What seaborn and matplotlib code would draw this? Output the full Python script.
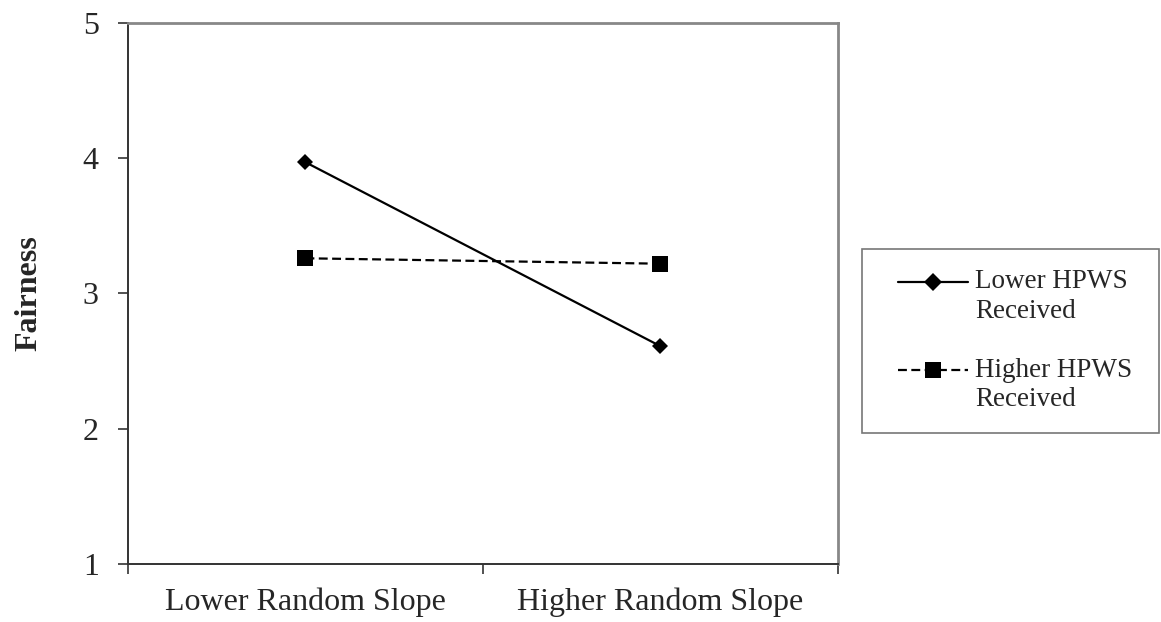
import pandas as pd
import matplotlib
matplotlib.use("Agg")
import matplotlib.pyplot as plt
import seaborn as sns

# ── Data ─────────────────────────────────────────────────────────────────────
slope_levels = ["Lower Random Slope", "Higher Random Slope"]
groups = ["Lower HPWS\nReceived", "Higher HPWS\nReceived"]
lower_hpws = [3.97, 2.61]
higher_hpws = [3.26, 3.22]
y_ticks = [1, 2, 3, 4, 5]

df = pd.DataFrame({
    "slope": slope_levels * 2,
    "group": [groups[0]] * 2 + [groups[1]] * 2,
    "fairness": lower_hpws + higher_hpws,
})

# ── Style ────────────────────────────────────────────────────────────────────
sns.set_style("white")
plt.rcParams["font.family"] = ["Liberation Serif", "DejaVu Serif"]

fig = plt.figure(figsize=(11.61, 6.22), dpi=100)
ax = fig.add_axes([0.1102, 0.0932, 0.6116, 0.870])

sns.lineplot(
    data=df, x="slope", y="fairness", hue="group", style="group",
    palette={groups[0]: "black", groups[1]: "black"},
    markers={groups[0]: "D", groups[1]: "s"},
    dashes={groups[0]: "", groups[1]: (4, 2)},
    markersize=8.5, linewidth=1.6, markeredgewidth=0, ax=ax, sort=False,
)
# square markers a bit larger than the diamonds
ax.lines[1].set_markersize(11)

ax.set_xlim(-0.5, 1.5)
ax.set_ylim(1, 5)
ax.set_yticks(y_ticks)
ax.set_xticks([-0.5, 0.5, 1.5])
ax.set_xticklabels([])
ax.set_xticks([0, 1], minor=True)
ax.set_xticklabels(slope_levels, minor=True, fontsize=23)
ax.tick_params(axis="x", which="minor", length=0, pad=17)
ax.tick_params(axis="x", which="major", direction="out", length=7, width=1.2,
               color="#333333", bottom=True)
ax.tick_params(axis="y", direction="out", length=7, width=1.2, color="#333333",
               labelsize=23, pad=14, left=True)

for side in ["left", "bottom"]:
    ax.spines[side].set_color("#333333")
    ax.spines[side].set_linewidth(1.4)
for side in ["top", "right"]:
    ax.spines[side].set_color("#888888")
    ax.spines[side].set_linewidth(2.0)

ax.set_xlabel("")
ax.set_ylabel("Fairness", fontsize=23, fontweight="bold", labelpad=28)

# legend outside the axes, handle level with the first line of each label
handles, labels = ax.get_legend_handles_labels()
ax.get_legend().remove()
labels = [lab.replace("\n", " \n") for lab in labels]  # a little right padding
leg = fig.legend(
    handles, labels, loc="upper left", bbox_to_anchor=(862 / 1161, 1 - 249 / 622),
    frameon=True, fancybox=False, fontsize=19.5, handlelength=2.58,
    handletextpad=0.84, labelspacing=1.25, borderpad=0.75, borderaxespad=0,
)
leg.get_frame().set_edgecolor("#555555")
leg.get_frame().set_linewidth(1.2)
for t in leg.get_texts():
    t.set_linespacing(1.24)
for h, ms in zip(leg.legend_handles, [9, 11]):
    h.set_markersize(ms)
    h.set_ydata([y + 10.5 for y in h.get_ydata()])
    h.set_xdata([x + 11.5 for x in h.get_xdata()])

fig.savefig("out.png", dpi=100)
